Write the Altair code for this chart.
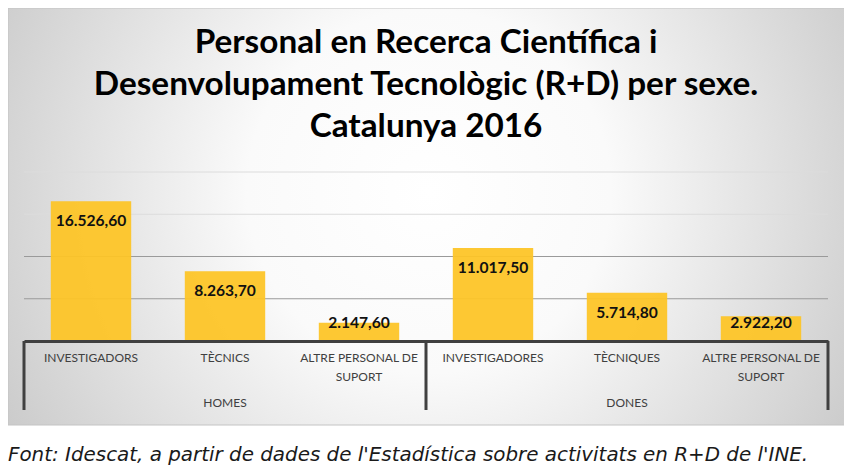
import altair as alt
import pandas as pd

# ---- data ----
GROUPS = ["HOMES", "HOMES", "HOMES", "DONES", "DONES", "DONES"]
CATEGORIES = [
    ["INVESTIGADORS"],
    ["TÈCNICS"],
    ["ALTRE PERSONAL DE", "SUPORT"],
    ["INVESTIGADORES"],
    ["TÈCNIQUES"],
    ["ALTRE PERSONAL DE", "SUPORT"],
]
VALUES = [16526.6, 8263.7, 2147.6, 11017.5, 5714.8, 2922.2]
GROUP_NAMES = ["HOMES", "DONES"]
GRID_TICKS = [5000, 10000, 15000, 20000]
TITLE_LINES = [
    "Personal en Recerca Científica i",
    "Desenvolupament Tecnològic (R+D) per sexe.",
    "Catalunya 2016",
]
SOURCE = "Font: Idescat, a partir de dades de l'Estadística sobre activitats en R+D de l'INE."


def fmt_ca(v):
    s = f"{v:,.2f}"
    return s.replace(",", "X").replace(".", ",").replace("X", ".")


keys = [f"{g}:{'|'.join(c)}" for g, c in zip(GROUPS, CATEGORIES)]
df = pd.DataFrame({
    "key": keys,
    "group": GROUPS,
    "value": VALUES,
    "label": [fmt_ca(v) for v in VALUES],
})
grp_df = pd.DataFrame({
    "key": [keys[GROUPS.index(g) + 1] for g in GROUP_NAMES],
    "group": GROUP_NAMES,
})
grid_df = pd.DataFrame({"v": GRID_TICKS})
one = pd.DataFrame({"t": [SOURCE]})

W, H = 804, 169
YMAX = 20000
FONT = "Lato"
AXIS_COLOR = "#404040"

xscale = alt.Scale(domain=keys, paddingInner=0.4, paddingOuter=0.2)
yscale = alt.Scale(domain=[0, YMAX])

bg = alt.Chart(one).mark_rect(
    color={
        "gradient": "radial",
        "x1": 0.5, "y1": 0.47, "r1": 0,
        "x2": 0.5, "y2": 0.47, "r2": 0.72,
        "stops": [
            {"offset": 0, "color": "#ffffff"},
            {"offset": 0.3, "color": "#fafafa"},
            {"offset": 1, "color": "#b8b8b8"},
        ],
    },
    stroke="#c4c4c4",
    strokeWidth=1,
).encode(
    x=alt.value(-16), x2=alt.value(826),
    y=alt.value(-164), y2=alt.value(253),
)

title = alt.Chart(one).mark_text(
    text=TITLE_LINES, font=FONT, fontSize=33.3, fontWeight="bold", color="#000000",
    lineHeight=42, align="center", baseline="middle",
).encode(x=alt.value(W / 2), y=alt.value(-129))

grid = alt.Chart(grid_df).mark_rule(strokeWidth=1).encode(
    y=alt.Y("v:Q", scale=yscale, axis=None),
    color=alt.condition("datum.v <= 10000", alt.value("#9a9a9a"), alt.value("#dcdcdc")),
)

bars = alt.Chart(df).mark_bar(color="#FDC526", opacity=0.94).encode(
    x=alt.X(
        "key:N", scale=xscale, sort=keys, title=None,
        axis=alt.Axis(
            labelExpr="split(split(datum.label, ':')[1], '|')",
            labelAngle=0, labelFont=FONT, labelFontSize=12, labelColor=AXIS_COLOR,
            labelPadding=11, labelLineHeight=19, labelBaseline="top",
            ticks=False, domainWidth=3, domainColor=AXIS_COLOR, grid=False,
            zindex=1,
        ),
    ),
    y=alt.Y("value:Q", scale=yscale, axis=None),
)

# label sits 20px under the bar top, but never lower than 18.5px above the baseline
px = YMAX / H
labels = alt.Chart(df).transform_calculate(
    ly=f"max(datum.value - {20 * px}, {18.5 * px})"
).mark_text(
    fontSize=15.6, font=FONT, fontWeight="bold", color="#111111", baseline="middle"
).encode(
    x=alt.X("key:N", scale=xscale, sort=keys),
    y=alt.Y("ly:Q", scale=yscale),
    text="label:N",
)

group_text = alt.Chart(grp_df).mark_text(
    font=FONT, fontSize=12, color=AXIS_COLOR, baseline="middle"
).encode(
    x=alt.X("key:N", scale=xscale, sort=keys),
    y=alt.value(H + 62),
    text="group:N",
)

seps = [
    alt.Chart(one).mark_rule(color=AXIS_COLOR, strokeWidth=3).encode(
        x=alt.value(xv), y=alt.value(H), y2=alt.value(H + 69)
    )
    for xv in (0, W / 2, W)
]

footer = alt.Chart(one).mark_text(
    align="left", baseline="alphabetic", font="DejaVu Sans", fontStyle="italic",
    fontSize=19.9, color="#1a1a1a",
).encode(x=alt.value(-16), y=alt.value(289), text="t:N")

chart = alt.layer(bg, grid, title, bars, labels, group_text, *seps, footer).properties(
    width=W,
    height=H,
    autosize=alt.AutoSizeParams(type="none"),
    padding={"left": 16, "top": 164, "right": 16, "bottom": 124},
).configure_view(stroke=None)

chart.save("out.html", embed_options={"renderer": "svg", "actions": False})
